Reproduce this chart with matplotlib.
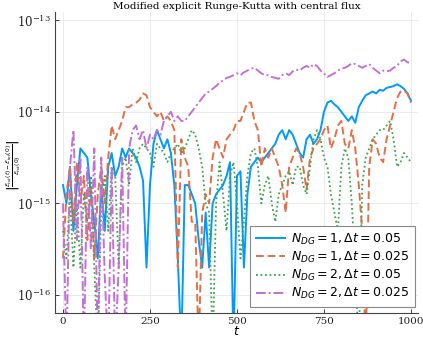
import numpy as np
import matplotlib
matplotlib.use("Agg")
import matplotlib.pyplot as plt
from matplotlib.font_manager import FontProperties

t = np.arange(0, 1001, 10)

# log10 of relative energy error (values below the axis = dips off-scale)
blue_log = [-14.8, -15.0, -14.6, -15.3, -14.8, -14.4, -14.45, -14.5, -14.9, -15.2,
            -15.6, -14.8, -15.3, -14.6, -14.45, -14.7, -14.6, -14.4, -14.5, -14.4,
            -14.45, -14.5, -14.6, -14.75, -15.7, -14.8, -14.35, -14.2, -14.3, -14.4,
            -14.3, -14.45, -14.8, -15.6, -16.6, -14.8, -14.8, -14.9, -15.0, -15.4,
            -15.7, -15.1, -15.7, -15.0, -14.9, -14.85, -14.8, -14.7, -14.55, -16.6,
            -14.7, -14.65, -15.7, -14.9, -14.6, -14.55, -14.5, -14.55, -14.5, -14.45,
            -14.4, -14.35, -14.25, -14.2, -14.3, -14.2, -14.25, -14.35, -14.45, -14.5,
            -14.3, -14.25, -14.35, -14.3, -14.2, -14.0, -13.9, -13.88, -13.92, -13.95,
            -14.0, -14.05, -14.1, -14.05, -14.12, -13.95, -13.88, -13.82, -13.8, -13.78,
            -13.8, -13.76, -13.77, -13.74, -13.73, -13.72, -13.7, -13.72, -13.75, -13.8,
            -13.88]

orange_log = [-15.6, -14.9, -14.6, -15.2, -14.55, -15.0, -14.7, -15.4, -14.8, -15.6,
              -14.9, -14.6, -15.0, -14.5, -14.15, -14.3, -14.2, -14.1, -13.95, -13.95,
              -13.92, -13.9, -13.87, -13.8, -13.82, -13.95, -14.0, -14.05, -14.0, -14.1,
              -14.05, -14.1, -14.2, -15.7, -14.3, -14.5, -14.6, -15.2, -15.2, -16.6,
              -15.1, -14.9, -15.0, -14.5, -14.3, -14.4, -14.5, -14.3, -14.25, -14.2,
              -14.1, -14.1, -14.0, -13.9, -13.9, -14.1, -14.2, -14.6, -14.4, -14.5,
              -14.4, -14.5, -14.6, -14.8, -15.1, -14.6, -14.5, -14.4, -14.45, -14.6,
              -14.85, -14.5, -14.4, -14.35, -14.3, -14.2, -14.15, -14.4, -14.3, -14.15,
              -14.1, -14.35, -14.4, -14.2, -14.4, -14.8, -15.3, -16.6, -14.6, -14.3,
              -14.35, -14.5, -14.55, -14.3, -14.15, -14.0, -13.85, -13.78, -13.77, -13.8,
              -13.9]

green_log = [-15.3, -15.6, -14.9, -15.7, -15.0, -15.7, -14.9, -15.2, -14.7, -15.7,
             -16.6, -15.0, -14.7, -15.3, -14.6, -14.7, -15.7, -14.6, -14.5, -14.8,
             -14.4, -14.55, -14.4, -14.35, -14.4, -14.45, -14.6, -14.35, -14.4, -14.45,
             -14.55, -14.45, -14.4, -14.35, -14.45, -14.4, -14.3, -14.2, -14.25, -14.4,
             -14.6, -15.0, -15.1, -16.6, -15.0, -14.55, -14.9, -15.3, -14.7, -14.55,
             -15.0, -15.6, -15.2, -14.7, -14.45, -14.4, -14.6, -15.0, -14.8, -14.7,
             -15.0, -15.2, -14.9, -14.8, -14.7, -14.65, -14.8, -14.6, -14.6, -14.8,
             -14.9, -14.6, -14.3, -14.2, -14.3, -14.5, -14.6, -14.9, -15.1, -15.3,
             -14.6, -14.4, -14.5, -15.0, -15.7, -16.6, -14.8, -14.5, -14.4, -14.3,
             -14.25, -14.2, -14.2, -14.15, -14.1, -14.3, -14.6, -14.55, -14.45, -14.5,
             -14.55]

purple_log = [-15.0, -16.6, -14.6, -14.2, -15.4, -14.5, -16.6, -14.6, -15.5, -14.4,
              -16.6, -14.5, -15.8, -16.6, -14.6, -16.6, -15.7, -14.5, -16.6, -14.4,
              -14.2, -14.15, -14.3, -14.2, -14.4, -14.25, -14.3, -14.2, -14.25, -14.1,
              -14.05, -14.0, -14.1, -14.05, -14.1, -14.1, -14.05, -14.0, -13.95, -13.9,
              -13.85, -13.8, -13.78, -13.75, -13.72, -13.68, -13.66, -13.63, -13.62, -13.6,
              -13.58, -13.6, -13.57, -13.55, -13.53, -13.52, -13.55, -13.58, -13.6, -13.6,
              -13.62, -13.63, -13.64, -13.6, -13.58, -13.6, -13.56, -13.54, -13.55, -13.52,
              -13.5, -13.52, -13.48, -13.5, -13.55, -13.58, -13.62, -13.6, -13.58, -13.55,
              -13.53, -13.52, -13.5, -13.47, -13.48, -13.5, -13.52, -13.5, -13.48, -13.52,
              -13.55, -13.58, -13.55, -13.56, -13.55, -13.52, -13.5, -13.45, -13.43, -13.46,
              -13.47]

labels = [r"$N_{DG}=1, \Delta t=0.05$", r"$N_{DG}=1, \Delta t=0.025$",
          r"$N_{DG}=2, \Delta t=0.05$", r"$N_{DG}=2, \Delta t=0.025$"]
xticks = [0, 250, 500, 750, 1000]
yticks = [1e-16, 1e-15, 1e-14, 1e-13]
ytick_labels = [r"$10^{-16}$", r"$10^{-15}$", r"$10^{-14}$", r"$10^{-13}$"]

plt.rcParams["mathtext.fontset"] = "dejavuserif"

fig = plt.figure(figsize=(4.23, 3.38), dpi=100)
ax = fig.add_axes([0.130, 0.074, 0.858, 0.890])

styles = [
    dict(color="#009AFA", ls="-", lw=1.4),
    dict(color="#E36F47", ls=(0, (4, 2)), lw=1.4),
    dict(color="#3EA44E", ls=(0, (1, 1.5)), lw=1.3),
    dict(color="#C271D2", ls=(0, (5, 1.5, 1, 1.5)), lw=1.4),
]
for ylog, lab, st in zip([blue_log, orange_log, green_log, purple_log], labels, styles):
    ax.plot(t, 10.0 ** np.array(ylog), label=lab, **st)

ax.set_yscale("log")
ax.set_xlim(-23, 1020)
ax.set_ylim(10 ** -16.196, 10 ** -12.913)
ax.set_xticks(xticks)
ax.set_xticklabels([str(v) for v in xticks], family="DejaVu Serif", fontsize=7.5)
ax.set_yticks(yticks)
ax.set_yticklabels(ytick_labels, fontsize=8.5, family="DejaVu Serif")
ax.yaxis.set_minor_locator(matplotlib.ticker.NullLocator())
ax.grid(True, color="#e8e8e8", lw=0.6)
for s in ["top", "right"]:
    ax.spines[s].set_visible(False)
for s in ["left", "bottom"]:
    ax.spines[s].set_color("#444444")
ax.tick_params(direction="in", length=3, width=0.6, colors="#222222", pad=3)

ax.set_title("Modified explicit Runge-Kutta with central flux", family="DejaVu Serif",
             fontsize=7.5, pad=2)
xl = ax.set_xlabel(r"$t$", fontsize=9, labelpad=-1)
xl.set_math_fontfamily("dejavusans")
yl = ax.set_ylabel(r"$\left|\frac{\mathcal{E}_{tot}(t)-\mathcal{E}_{tot}(0)}{\mathcal{E}_{tot}(0)}\right|$",
                   fontsize=6)
yl.set_math_fontfamily("dejavusans")
ax.yaxis.set_label_coords(-0.088, 0.49)

leg = ax.legend(loc="lower right", prop=FontProperties(size=9, math_fontfamily="dejavusans"),
                fancybox=False, framealpha=1, edgecolor="#888888", handlelength=2.3,
                handletextpad=0.5, borderpad=0.45, labelspacing=0.25, borderaxespad=0,
                bbox_to_anchor=(0.992, 0.02))
leg.get_frame().set_linewidth(0.8)

fig.savefig("out.png", dpi=100)
